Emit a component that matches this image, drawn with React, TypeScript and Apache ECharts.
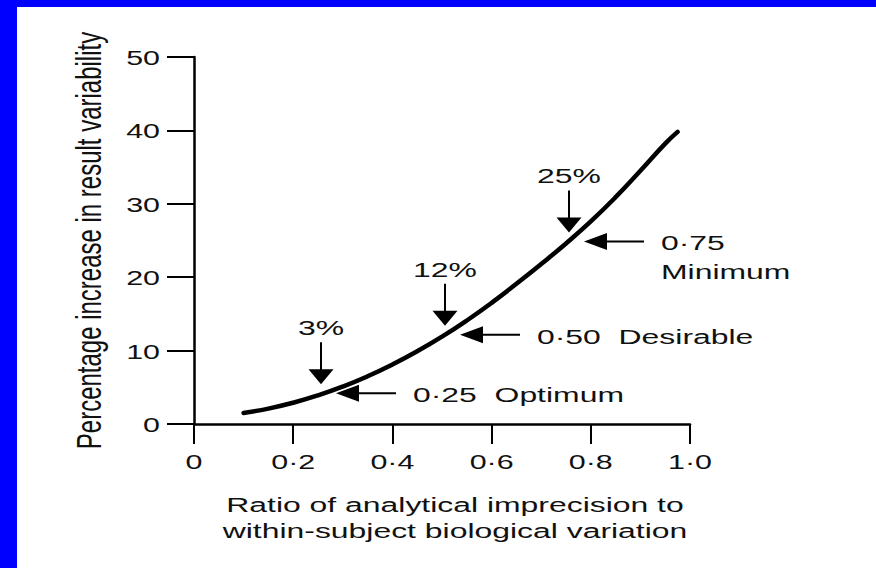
import React, { useEffect, useRef } from "react";
import * as echarts from "echarts";

// Curve: ratio of analytical imprecision to within-subject biological variation vs % increase
const ratio = [0.1, 0.15, 0.2, 0.25, 0.3, 0.35, 0.4, 0.45, 0.5, 0.55, 0.6, 0.65, 0.7, 0.75, 0.8, 0.85, 0.9, 0.95, 0.975];
const pctIncrease = [1.5, 2.1, 2.9, 3.9, 5.1, 6.5, 8.1, 9.9, 11.9, 14.1, 16.5, 19.1, 21.8, 24.6, 27.6, 30.9, 34.5, 38.2, 39.8];

const xTicks = [0, 0.2, 0.4, 0.6, 0.8, 1.0];
const xTickLabels = ["0", "0·2", "0·4", "0·6", "0·8", "1·0"];
const yTicks = [0, 10, 20, 30, 40, 50];
const yTickLabels = ["0", "10", "20", "30", "40", "50"];

const markRatios = [0.25, 0.5, 0.75];
const markPct = ["3%", "12%", "25%"];
const markLabels = [["0·25  Optimum"], ["0·50  Desirable"], ["0·75", "Minimum"]];

const yTitle = "Percentage increase in result variability";
const xTitle = ["Ratio of analytical imprecision to", "within-subject biological variation"];

const FONT = '"Liberation Sans", Arial, Helvetica, sans-serif';
const SX = 1.52;

export default function App() {
  const ref = useRef<HTMLDivElement>(null);
  useEffect(() => {
    const el = ref.current;
    if (!el) return;
    const chart = echarts.init(el, null, { renderer: "svg" });
    chart.setOption({
      animation: false,
      backgroundColor: "#ffffff",
      grid: { left: 194, top: 57, width: 496, height: 367 },
      xAxis: {
        type: "value",
        min: 0,
        max: 1,
        interval: 0.2,
        axisLine: { show: true, lineStyle: { color: "#000", width: 2.5 } },
        axisTick: { show: true, inside: false, length: 20, lineStyle: { color: "#000", width: 2 } },
        axisLabel: { show: false },
        splitLine: { show: false },
      },
      yAxis: {
        type: "value",
        min: 0,
        max: 50,
        interval: 10,
        axisLine: { show: true, lineStyle: { color: "#000", width: 2.5 } },
        axisTick: { show: true, inside: false, length: 27, lineStyle: { color: "#000", width: 2 } },
        axisLabel: { show: false },
        splitLine: { show: false },
      },
      series: [
        {
          type: "line",
          data: ratio.map((r, i) => [r, pctIncrease[i]]),
          smooth: 0.5,
          showSymbol: false,
          silent: true,
          lineStyle: { color: "#000", width: 4.5, cap: "round" },
        },
      ],
    });

    const px = (x: number, y: number) => chart.convertToPixel({ gridIndex: 0 }, [x, y]) as number[];
    const g: any[] = [];

    // blue frame (top and left)
    g.push({ type: "rect", shape: { x: 0, y: 0, width: 876, height: 7 }, style: { fill: "#0000ff" }, z: 100 });
    g.push({ type: "rect", shape: { x: 0, y: 0, width: 17, height: 568 }, style: { fill: "#0000ff" }, z: 100 });

    const txt = (text: string, x: number, y: number, size: number, align: string, extra: any = {}) => ({
      type: "text",
      x,
      y,
      scaleX: SX,
      z: 50,
      ...extra,
      style: { text, fill: "#111", fontSize: size, fontFamily: FONT, align, verticalAlign: "middle" },
    });

    // tick labels
    xTicks.forEach((v, i) => {
      const p = px(v, 0);
      g.push(txt(xTickLabels[i], p[0], p[1] + 38, 20, "center"));
    });
    yTicks.forEach((v, i) => {
      const p = px(0, v);
      g.push(txt(yTickLabels[i], p[0] - 34, p[1] + 1, 20, "right"));
    });

    // axis titles
    const o = px(0, 0);
    const top = px(0, 50);
    g.push({
      type: "text",
      x: 88,
      y: (o[1] + top[1]) / 2,
      rotation: Math.PI / 2,
      scaleY: 1.5,
      z: 50,
      style: { text: yTitle, fill: "#111", fontSize: 24, fontFamily: FONT, align: "center", verticalAlign: "middle" },
    });
    xTitle.forEach((t, i) => g.push(txt(t, 455, 505 + i * 26, 21, "center")));

    // annotations
    markRatios.forEach((r, k) => {
      const idx = ratio.indexOf(r);
      const p = px(r, pctIncrease[idx]);
      // down arrow
      const dx = p[0] + 3;
      const dy = p[1] - 11;
      g.push({ type: "line", shape: { x1: dx, y1: dy - 42, x2: dx, y2: dy - 14 }, style: { stroke: "#000", lineWidth: 2 }, z: 40 });
      g.push({
        type: "polygon",
        shape: { points: [[dx - 12.5, dy - 15], [dx + 12.5, dy - 15], [dx, dy]] },
        style: { fill: "#000" },
        z: 40,
      });
      g.push(txt(markPct[k], dx, dy - 56, 21, "center"));
      // left arrow
      const lx = p[0] + 18;
      const ly = p[1] - 2;
      g.push({ type: "line", shape: { x1: lx + 22, y1: ly, x2: lx + 60, y2: ly }, style: { stroke: "#000", lineWidth: 2 }, z: 40 });
      g.push({
        type: "polygon",
        shape: { points: [[lx, ly], [lx + 23, ly - 8.5], [lx + 23, ly + 8.5]] },
        style: { fill: "#000" },
        z: 40,
      });
      markLabels[k].forEach((t, j) => g.push(txt(t, lx + 77, ly + 2 + j * 29, 21, "left")));
    });

    chart.setOption({ graphic: g });
    return () => chart.dispose();
  }, []);

  return <div ref={ref} style={{ position: "fixed", left: 0, top: 0, width: 876, height: 568 }} />;
}
